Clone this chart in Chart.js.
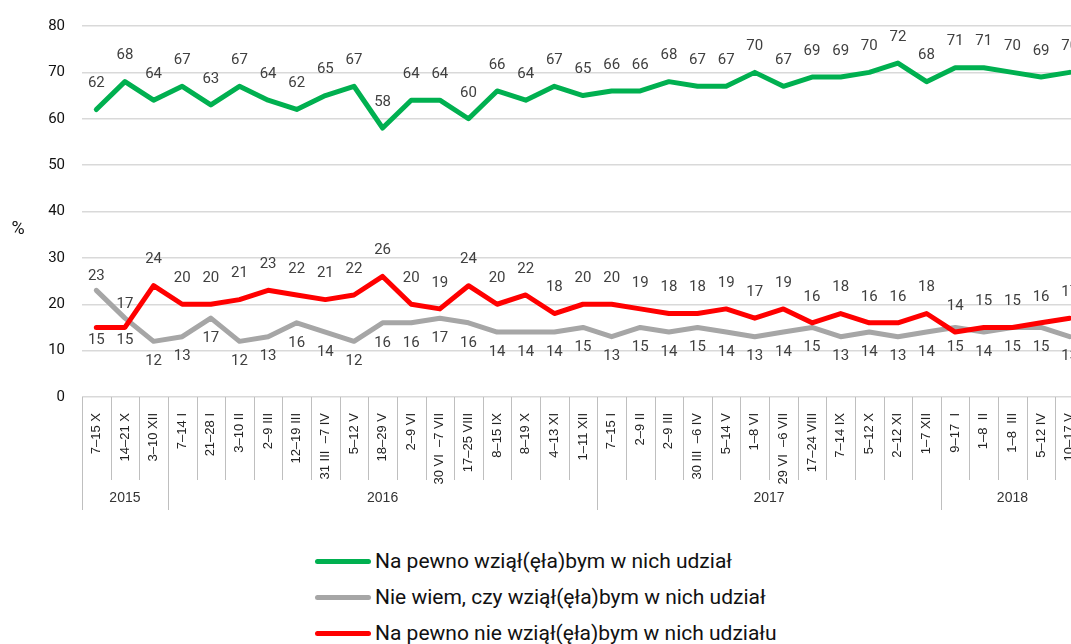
<!DOCTYPE html>
<html>
<head>
<meta charset="utf-8">
<script src="https://cdn.jsdelivr.net/npm/chart.js@4"></script>
<style>
  html, body { margin: 0; padding: 0; background: #fff; overflow: hidden; }
  #wrap { position: relative; width: 1084px; height: 512px; }
  #legend { margin: 31px 0 0 315px; font-family: Roboto, sans-serif; font-size: 21px; color: #111; }
  #legend .row { height: 36px; display: flex; align-items: center; }
  #legend .swatch { width: 56px; height: 5px; border-radius: 3px; margin-right: 4px; }
</style>
</head>
<body>
<div id="wrap"><canvas id="chart" width="1084" height="512"></canvas></div>
<div id="legend"></div>
<script>
const labels = [
  '7–15 X', '14–21 X', '3–10 XII',
  '7–14 I', '21–28 I', '3–10 II', '2–9 III', '12–19 III', '31 III  –7 IV', '5–12 V', '18–29 V',
  '2–9 VI', '30 VI  –7 VII', '17–25 VIII', '8–15 IX', '8–19 X', '4–13 XI', '1–11 XII',
  '7–15 I', '2–9 II', '2–9 III', '30 III  –6 IV', '5–14 V', '1–8 VI', '29 VI  –6 VII', '17–24 VIII',
  '7–14 IX', '5–12 X', '2–12 XI', '1–7 XII',
  '9–17  I', '1–8  II', '1–8  III', '5–12 IV', '10–17 V'
];
const years = ['2015', '2016', '2017', '2018'];
const yearCounts = [3, 15, 12, 5];

const definitelyYes = [62, 68, 64, 67, 63, 67, 64, 62, 65, 67, 58, 64, 64, 60, 66, 64, 67, 65,
  66, 66, 68, 67, 67, 70, 67, 69, 69, 70, 72, 68, 71, 71, 70, 69, 70];
const dontKnow = [23, 17, 12, 13, 17, 12, 13, 16, 14, 12, 16, 16, 17, 16, 14, 14, 14, 15,
  13, 15, 14, 15, 14, 13, 14, 15, 13, 14, 13, 14, 15, 14, 15, 15, 13];
const definitelyNo = [15, 15, 24, 20, 20, 21, 23, 22, 21, 22, 26, 20, 19, 24, 20, 22, 18, 20,
  20, 19, 18, 18, 19, 17, 19, 16, 18, 16, 16, 18, 14, 15, 15, 16, 17];

const seriesNames = [
  'Na pewno wziął(ęła)bym w nich udział',
  'Nie wiem, czy wziął(ęła)bym w nich udział',
  'Na pewno nie wziął(ęła)bym w nich udziału'
];

// labels: green on top, red above / grey below, swapped when grey clearly higher
const pointLabels = {
  id: 'pointLabels',
  afterDatasetsDraw(chart) {
    const ctx = chart.ctx;
    ctx.save();
    ctx.font = '15px Roboto';
    ctx.fillStyle = '#404040';
    ctx.textAlign = 'center';
    ctx.textBaseline = 'middle';
    chart.data.datasets.forEach((ds, di) => {
      const meta = chart.getDatasetMeta(di);
      meta.data.forEach((pt, i) => {
        let above = ds.labelPos === 'above';
        const swapped = di > 0 && dontKnow[i] - definitelyNo[i] >= 2;
        if (swapped) above = !above;
        const off = above ? -(swapped ? 14 : 26) : (swapped ? 13 : 20);
        ctx.fillText(ds.data[i], pt.x, pt.y + off);
      });
    });
    ctx.restore();
  }
};

// category boxes under the axis + year row + "%" unit
const axisBoxes = {
  id: 'axisBoxes',
  afterDraw(chart) {
    const ctx = chart.ctx;
    const x = chart.scales.x;
    const bottom = chart.chartArea.bottom;
    const half = (x.getPixelForValue(1) - x.getPixelForValue(0)) / 2;
    const yearStarts = [0];
    yearCounts.forEach(c => yearStarts.push(yearStarts[yearStarts.length - 1] + c));

    ctx.save();
    ctx.strokeStyle = '#bfbfbf';
    ctx.lineWidth = 1;
    for (let i = 0; i <= labels.length; i++) {
      const px = Math.round(x.getPixelForValue(i) - half) + 0.5;
      const len = yearStarts.includes(i) ? 113 : 83;
      ctx.beginPath();
      ctx.moveTo(px, bottom);
      ctx.lineTo(px, bottom + len);
      ctx.stroke();
    }

    ctx.font = '14px "Liberation Sans", sans-serif';
    ctx.fillStyle = '#333';
    ctx.textAlign = 'center';
    ctx.textBaseline = 'middle';
    years.forEach((yr, k) => {
      const a = x.getPixelForValue(yearStarts[k]) - half;
      const b = x.getPixelForValue(yearStarts[k + 1]) - half;
      ctx.fillText(yr, (a + b) / 2, bottom + 101);
    });

    ctx.font = '18px Roboto';
    ctx.fillStyle = '#111';
    ctx.fillText('%', 18, 229);
    ctx.restore();
  }
};

const chart = new Chart(document.getElementById('chart'), {
  type: 'line',
  data: {
    labels: labels,
    datasets: [
      { label: seriesNames[0], data: definitelyYes, borderColor: '#00b050', labelPos: 'above', order: 1 },
      { label: seriesNames[1], data: dontKnow, borderColor: '#a6a6a6', labelPos: 'below', order: 2 },
      { label: seriesNames[2], data: definitelyNo, borderColor: '#ff0000', labelPos: 'above', order: 0 }
    ]
  },
  options: {
    responsive: false,
    animation: false,
    layout: { padding: { top: 24, left: 0, right: 0, bottom: 0 } },
    elements: {
      line: { borderWidth: 5, tension: 0, borderJoinStyle: 'round', borderCapStyle: 'round', fill: false },
      point: { radius: 0, hoverRadius: 0 }
    },
    plugins: {
      legend: { display: false },
      tooltip: { enabled: false }
    },
    scales: {
      x: {
        offset: true,
        grid: { display: false },
        border: { display: false },
        ticks: {
          autoSkip: false,
          minRotation: 90,
          maxRotation: 90,
          padding: 8,
          color: '#222',
          font: { family: '"Liberation Sans", sans-serif', size: 13 }
        },
        afterFit(scale) {
          scale.height = 115;
          scale.paddingLeft = 0;
          scale.paddingRight = 0;
        }
      },
      y: {
        min: 0,
        max: 80,
        grid: { color: '#d9d9d9', lineWidth: 1.5, drawTicks: false },
        border: { display: false },
        ticks: {
          stepSize: 10,
          padding: 17,
          color: '#111',
          font: { family: 'Roboto', size: 15 }
        },
        afterFit(scale) { scale.width = 82; }
      }
    }
  },
  plugins: [pointLabels, axisBoxes]
});

// legend, one series per row
const legend = document.getElementById('legend');
chart.data.datasets.forEach(ds => {
  const row = document.createElement('div');
  row.className = 'row';
  const sw = document.createElement('span');
  sw.className = 'swatch';
  sw.style.background = ds.borderColor;
  const txt = document.createElement('span');
  txt.textContent = ds.label;
  row.appendChild(sw);
  row.appendChild(txt);
  legend.appendChild(row);
});
</script>
</body>
</html>
